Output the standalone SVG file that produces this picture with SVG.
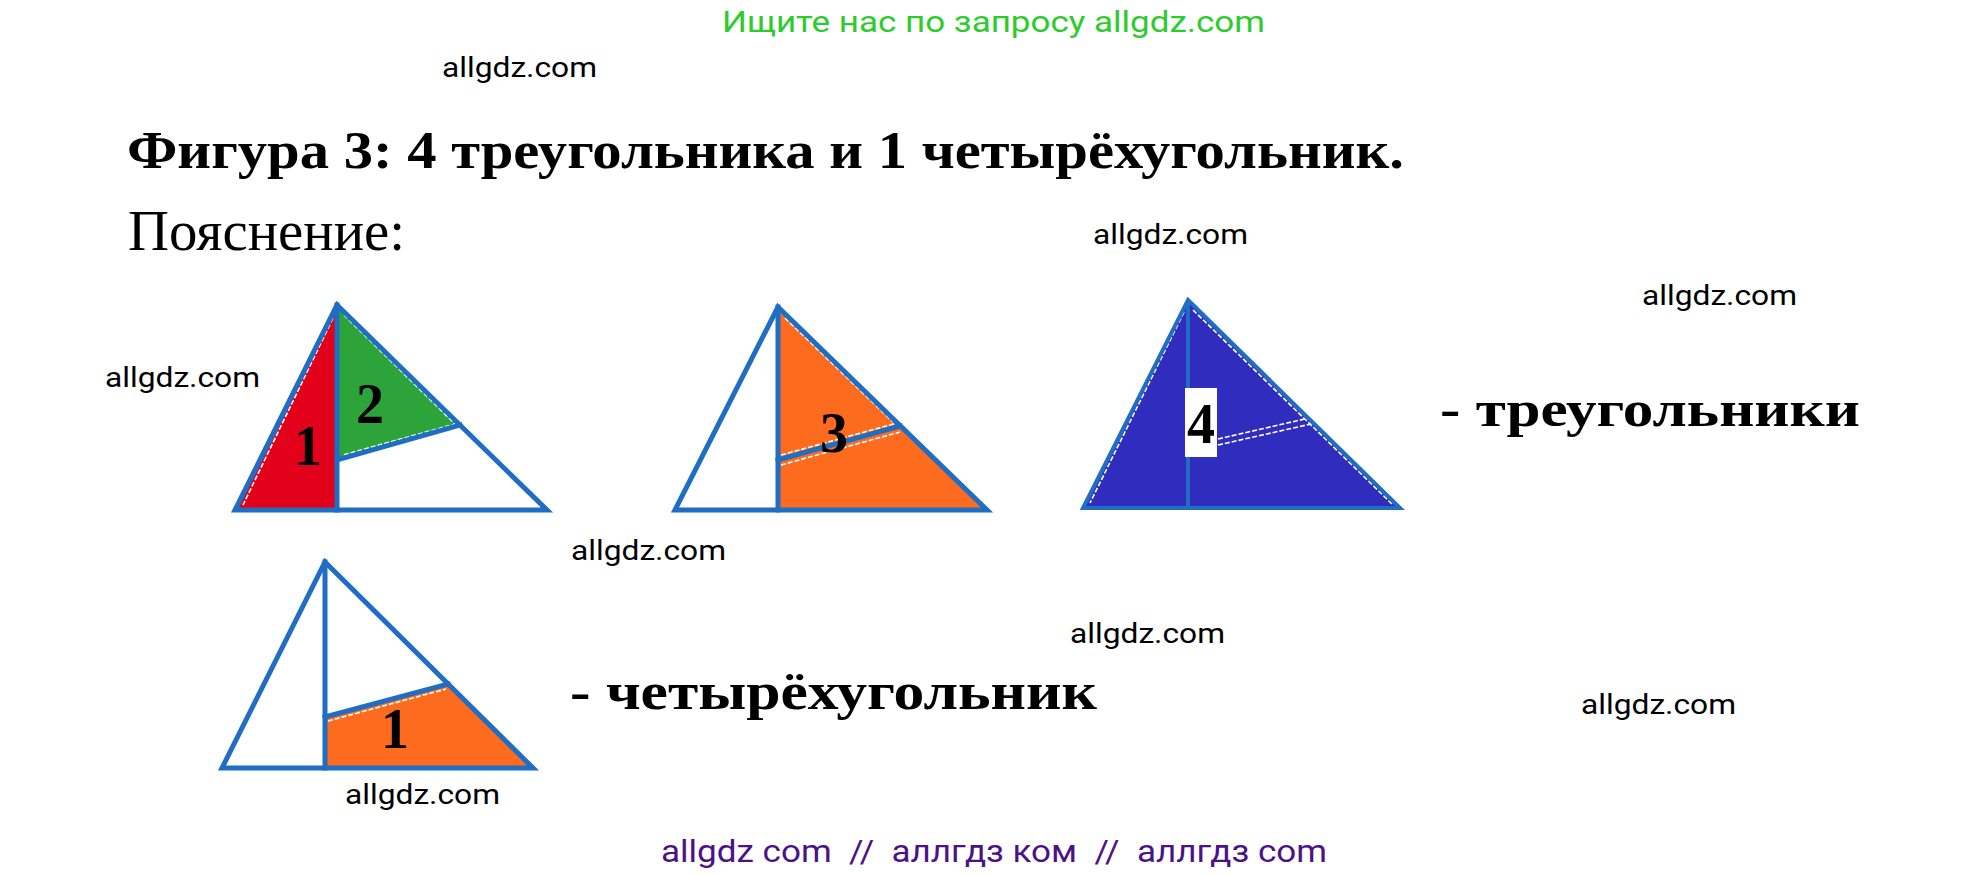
<svg xmlns="http://www.w3.org/2000/svg" width="1988" height="875" viewBox="0 0 1988 875">
<style>
.wm{font-family:Roboto,"Liberation Sans",sans-serif;font-size:27px;fill:#000}
.edge{fill:none;stroke:#1f6ec4;stroke-width:5;stroke-linejoin:miter;stroke-linecap:square}
.dash{fill:none;stroke:#fff;stroke-width:1.6;stroke-dasharray:5 2}
.num{font-family:"Liberation Serif","Times New Roman",serif;font-weight:bold;font-size:56px;fill:#000;text-anchor:middle}
.big{font-family:"Liberation Serif","Times New Roman",serif;font-weight:bold;fill:#000}
</style>
<rect width="1988" height="875" fill="#fff"/>
<g id="header">
<text x="722" y="32" font-family="Roboto,'Liberation Sans',sans-serif" font-size="29" fill="#2ccc2c" textLength="543" lengthAdjust="spacingAndGlyphs">Ищите нас по запросу allgdz.com</text>
<text class="big" x="127" y="168" font-size="53" textLength="1277" lengthAdjust="spacingAndGlyphs">Фигура 3: 4 треугольника и 1 четырёхугольник.</text>
<text x="128" y="250" font-family="'Liberation Serif','Times New Roman',serif" font-size="57" fill="#000" textLength="277" lengthAdjust="spacingAndGlyphs">Пояснение:</text>
</g>
<g id="tri1">
<polygon points="337,305 235,510 337,510" fill="#e3001b"/>
<polygon points="337,305 460,425 337,460" fill="#2ca43a"/>
<polyline class="dash" points="333,318 243,505"/>
<polyline class="dash" points="344,315 455,424 343,455"/>
<polygon class="edge" points="337,305 547,510 235,510"/>
<line class="edge" x1="337" y1="305" x2="337" y2="510"/>
<line class="edge" x1="337" y1="460" x2="460" y2="425"/>
<text class="num" x="308" y="465">1</text>
<text class="num" x="370" y="423">2</text>
</g>
<g id="tri2">
<polygon points="778,307 987,510 778,510" fill="#fd6b1e"/>
<polyline class="dash" points="785,318 893,422"/>
<polyline class="dash" points="781,455 897,423"/>
<polyline class="dash" points="781,465 900,432"/>
<polygon class="edge" points="778,307 987,510 675,510"/>
<line class="edge" x1="778" y1="307" x2="778" y2="510"/>
<line class="edge" x1="778" y1="460" x2="900" y2="426"/>
<text class="num" x="834" y="452">3</text>
</g>
<g id="tri3">
<polygon points="1188,300 1400,508 1083,508" fill="#302dbe"/>
<polyline class="dash" points="1184,312 1090,503"/>
<polyline class="dash" points="1193,310 1392,504"/>
<line x1="1188" y1="302" x2="1188" y2="506" stroke="#1f6ec4" stroke-width="4"/>
<line x1="1218" y1="439" x2="1309" y2="418" class="dash"/>
<line x1="1218" y1="445" x2="1311" y2="424" class="dash"/>
<polygon points="1188,300 1400,508 1083,508" fill="none" stroke="#1f6ec4" stroke-width="4" stroke-linejoin="miter"/>
<rect x="1185" y="388" width="32" height="69" fill="#fff"/>
<text class="num" x="1201" y="443">4</text>
</g>
<g id="tri4">
<polygon points="325,717 448,684 533,768 325,768" fill="#fd6b1e"/>
<polyline class="dash" points="328,721 446,689"/>
<polygon class="edge" points="325,562 533,768 222,768"/>
<line class="edge" x1="325" y1="562" x2="325" y2="768"/>
<line class="edge" x1="325" y1="717" x2="448" y2="684"/>
<text class="num" x="395" y="748">1</text>
</g>
<g id="legend">
<text class="big" x="1440" y="426" font-size="50" textLength="420" lengthAdjust="spacingAndGlyphs">- треугольники</text>
<text class="big" x="570" y="709" font-size="53" textLength="527" lengthAdjust="spacingAndGlyphs">- четырёхугольник</text>
</g>
<g id="watermarks">
<text class="wm" x="442" y="77" textLength="155" lengthAdjust="spacingAndGlyphs">allgdz.com</text>
<text class="wm" x="1093" y="244" textLength="155" lengthAdjust="spacingAndGlyphs">allgdz.com</text>
<text class="wm" x="1642" y="305" textLength="155" lengthAdjust="spacingAndGlyphs">allgdz.com</text>
<text class="wm" x="105" y="387" textLength="155" lengthAdjust="spacingAndGlyphs">allgdz.com</text>
<text class="wm" x="571" y="560" textLength="155" lengthAdjust="spacingAndGlyphs">allgdz.com</text>
<text class="wm" x="1070" y="643" textLength="155" lengthAdjust="spacingAndGlyphs">allgdz.com</text>
<text class="wm" x="1581" y="714" textLength="155" lengthAdjust="spacingAndGlyphs">allgdz.com</text>
<text class="wm" x="345" y="804" textLength="155" lengthAdjust="spacingAndGlyphs">allgdz.com</text>
</g>
<g id="footer">
<text x="661" y="862" font-family="Roboto,'Liberation Sans',sans-serif" font-size="31" fill="#4b1288" style="white-space:pre" textLength="666" lengthAdjust="spacingAndGlyphs">allgdz com  //  аллгдз ком  //  аллгдз com</text>
</g>
<g id="connectors"/>
</svg>
